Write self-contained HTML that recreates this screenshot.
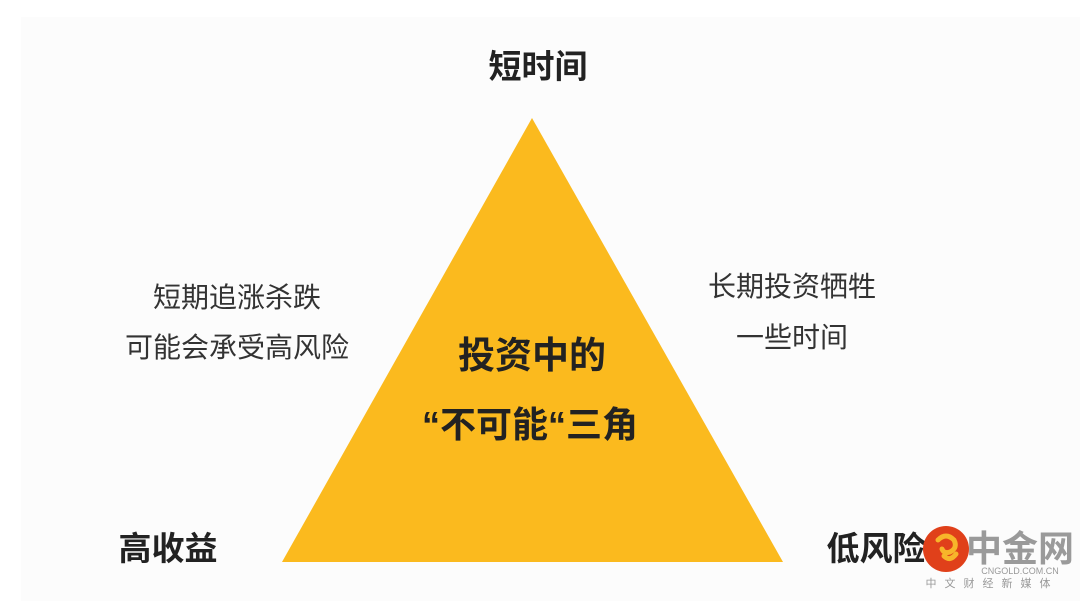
<!DOCTYPE html>
<html><head><meta charset="utf-8"><style>
html,body{margin:0;padding:0;background:#fff;}
svg{display:block;}
text{font-family:"Liberation Sans","Noto Sans CJK SC",sans-serif;}
</style></head><body>
<svg width="1080" height="601" viewBox="0 0 1080 601" xmlns="http://www.w3.org/2000/svg">
<rect x="0" y="0" width="1080" height="601" fill="#fff"/>
<rect x="21" y="17" width="1059" height="584" fill="#fcfcfc"/>
<polygon points="532,118 282,562 783,562" fill="#FBBA1E"/>
<g fill="#222" font-weight="bold" text-anchor="middle">
<text x="538" y="78" font-size="33">短时间</text>
<text x="168" y="560" font-size="33">高收益</text>
<text x="876" y="560" font-size="33">低风险</text>
<text x="532" y="368" font-size="37">投资中的</text>
<text x="530" y="437" font-size="36">“不可能“三角</text>
</g>
<g fill="#333" text-anchor="middle" font-size="28">
<text x="237" y="307">短期追涨杀跌</text>
<text x="237" y="357">可能会承受高风险</text>
<text x="792" y="296">长期投资牺牲</text>
<text x="792" y="347">一些时间</text>
</g>
<g>
<circle cx="946" cy="549" r="23" fill="#E0401A"/>
<path d="M938,540 q8,-8 16,0 q4,8 -4,12 q-6,2 -8,-3 M944,556 q6,6 12,-2" fill="none" stroke="#F7B52A" stroke-width="5" stroke-linecap="round"/>
<text x="1020" y="561" font-size="36" font-weight="bold" fill="#9a9a9a" text-anchor="middle">中金网</text>
<text x="1020" y="574" font-size="9" fill="#999" text-anchor="middle">CNGOLD.COM.CN</text>
<text x="992" y="587" font-size="11" fill="#999" text-anchor="middle" letter-spacing="8">中文财经新媒体</text>
</g>
</svg>
</body></html>
